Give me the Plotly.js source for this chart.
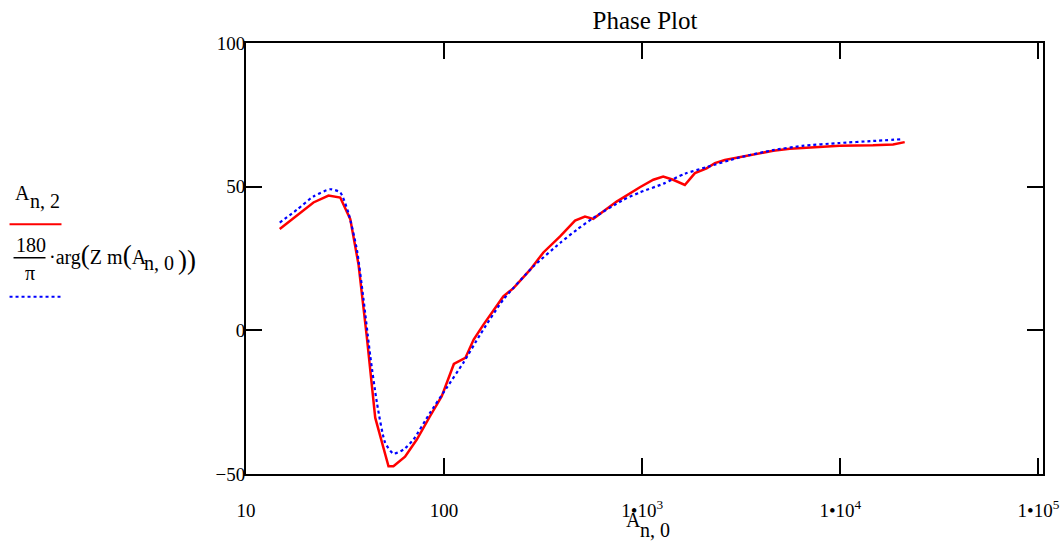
<!DOCTYPE html>
<html>
<head>
<meta charset="utf-8">
<script src="https://cdn.plot.ly/plotly-3.0.1.min.js"></script>
<style>html,body{margin:0;padding:0;background:#fff;}#chart{width:1064px;height:547px;}</style>
</head>
<body>
<div id="chart"></div>
<script>
// Measured data (red, solid): A[n,0] frequency, A[n,2] phase (deg)
var measFreq = [14.8, 21.9, 26.1, 29.9, 33.6, 37.0, 40.7, 44.9, 52.4, 55.5, 63.5, 72.8, 84.9, 97.3, 112, 128, 141, 158, 199, 224, 272, 317, 385, 458, 514, 566, 635, 743, 973, 1138, 1276, 1432, 1641, 1845, 2113, 2328, 2612, 3112, 3698, 4581, 5559, 7586, 9931, 14620, 18450, 21130];
var measPhase = [35.3, 44.5, 46.9, 46.2, 38.7, 22.8, -2.1, -30.4, -47.3, -47.3, -44.0, -38.0, -29.9, -22.9, -11.7, -9.6, -3.2, 2.0, 11.8, 14.7, 21.1, 27.1, 32.7, 38.2, 39.6, 38.8, 41.4, 44.8, 49.8, 52.4, 53.5, 52.4, 50.6, 54.7, 56.4, 58.2, 59.3, 60.3, 61.4, 62.5, 63.2, 63.7, 64.2, 64.4, 64.7, 65.5];

// Model (blue, dotted): 180/pi * arg(Zm(A[n,0]))
var modelFreq = [14.8, 18.1, 21.9, 26.6, 29.9, 32.9, 36.3, 39.2, 42.4, 45.8, 50.4, 55.5, 62.4, 70.0, 84.9, 103, 125, 152, 199, 282, 385, 467, 566, 802, 973, 1276, 1641, 2113, 3112, 4581, 6412, 9931, 14620, 20320];
var modelPhase = [37.5, 42.0, 46.6, 49.1, 48.0, 40.8, 28.0, 10.7, -9.0, -25.2, -39.1, -42.9, -41.5, -38.0, -28.7, -20.0, -11.3, -1.5, 10.7, 22.2, 30.4, 35.0, 39.1, 45.4, 48.0, 51.0, 54.5, 56.8, 60.2, 62.7, 64.2, 65.2, 65.9, 66.5];

var xTickVals = [10, 100, 1000, 10000, 100000];
var xTickText = ["10", "100", "1\u202210<sup>3</sup>", "1\u202210<sup>4</sup>", "1\u202210<sup>5</sup>"];
var yTickVals = [-50, 0, 50, 100];
var yTickText = ["\u221250", "0", "50", "100"];

var FONT = "Liberation Serif, Times New Roman, serif";
var FS = 20;
var TFS = 19;

// plot area in pixels
var L = 245.7, R = 1043.5, T = 43, B = 474.5;
function px(x){ return (x - L) / (R - L); }
function py(y){ return (B - y) / (B - T); }

function txt(text, xPix, yPix, anchor, size){
  return {xref: 'paper', yref: 'paper', x: px(xPix), y: py(yPix), xanchor: anchor || 'left', yanchor: 'middle',
          text: text, showarrow: false, font: {family: FONT, size: size || FS, color: '#000'}};
}

var traces = [
  {x: measFreq, y: measPhase, type: 'scatter', mode: 'lines',
   line: {color: '#ff0000', width: 2.5}, showlegend: false},
  {x: modelFreq, y: modelPhase, type: 'scatter', mode: 'lines',
   line: {shape: 'spline', smoothing: 0.6, color: '#0000ff', width: 2.2, dash: 'dot'}, showlegend: false}
];

var layout = {
  width: 1064, height: 547,
  margin: {l: L, r: 1064 - R, t: T, b: 547 - B, pad: 0},
  paper_bgcolor: '#ffffff', plot_bgcolor: '#ffffff',
  font: {family: FONT, size: FS, color: '#000'},
  title: {text: 'Phase Plot', font: {family: FONT, size: 25, color: '#000'},
          xref: 'container', x: 645/1064, xanchor: 'center', yref: 'container', y: 1 - 20/547, yanchor: 'middle'},
  xaxis: {type: 'log', range: [1, 5.023], tickvals: xTickVals, ticktext: xTickText,
          ticks: 'inside', ticklen: 16, tickwidth: 2, tickcolor: '#000',
          showline: true, linewidth: 2, linecolor: '#000', mirror: 'ticks',
          showgrid: false, zeroline: false, ticklabelstandoff: 18,
          tickfont: {family: FONT, size: TFS, color: '#000'}},
  yaxis: {range: [-50, 100], tickvals: yTickVals, ticktext: yTickText,
          ticks: 'inside', ticklen: 16, tickwidth: 2, tickcolor: '#000',
          showline: true, linewidth: 2, linecolor: '#000', mirror: 'ticks',
          showgrid: false, zeroline: false, ticklabelstandoff: -5,
          tickfont: {family: FONT, size: TFS, color: '#000'}},
  annotations: [
    // x axis title A_{n,0}
    txt('A', 624, 520.4),
    txt('n, 0', 638, 530.4),
    // legend entry 1: A_{n,2}
    txt('A', 12, 193.4),
    txt('n, 2', 27, 201.4),
    // legend entry 2: 180/pi * arg(Zm(A_{n,0}))
    txt('180', 30, 245.4, 'center'),
    txt('\u03c0', 29, 273.4, 'center'),
    txt('\u00b7arg<span style="font-size:27px">(</span>Z m<span style="font-size:27px">(</span>A', 46, 255.4),
    txt('n, 0', 142, 263.4),
    txt('))', 176, 260, 'left', 27)
  ],
  shapes: [
    {type: 'line', xref: 'paper', yref: 'paper', x0: px(9), x1: px(61), y0: py(224.5), y1: py(224.5),
     line: {color: '#ff0000', width: 2}},
    {type: 'line', xref: 'paper', yref: 'paper', x0: px(13), x1: px(45), y0: py(258), y1: py(258),
     line: {color: '#000', width: 1.5}},
    {type: 'line', xref: 'paper', yref: 'paper', x0: px(9), x1: px(60), y0: py(297), y1: py(297),
     line: {color: '#0000ff', width: 2, dash: 'dot'}}
  ]
};

Plotly.newPlot('chart', traces, layout, {displayModeBar: false, staticPlot: true});
</script>
</body>
</html>
